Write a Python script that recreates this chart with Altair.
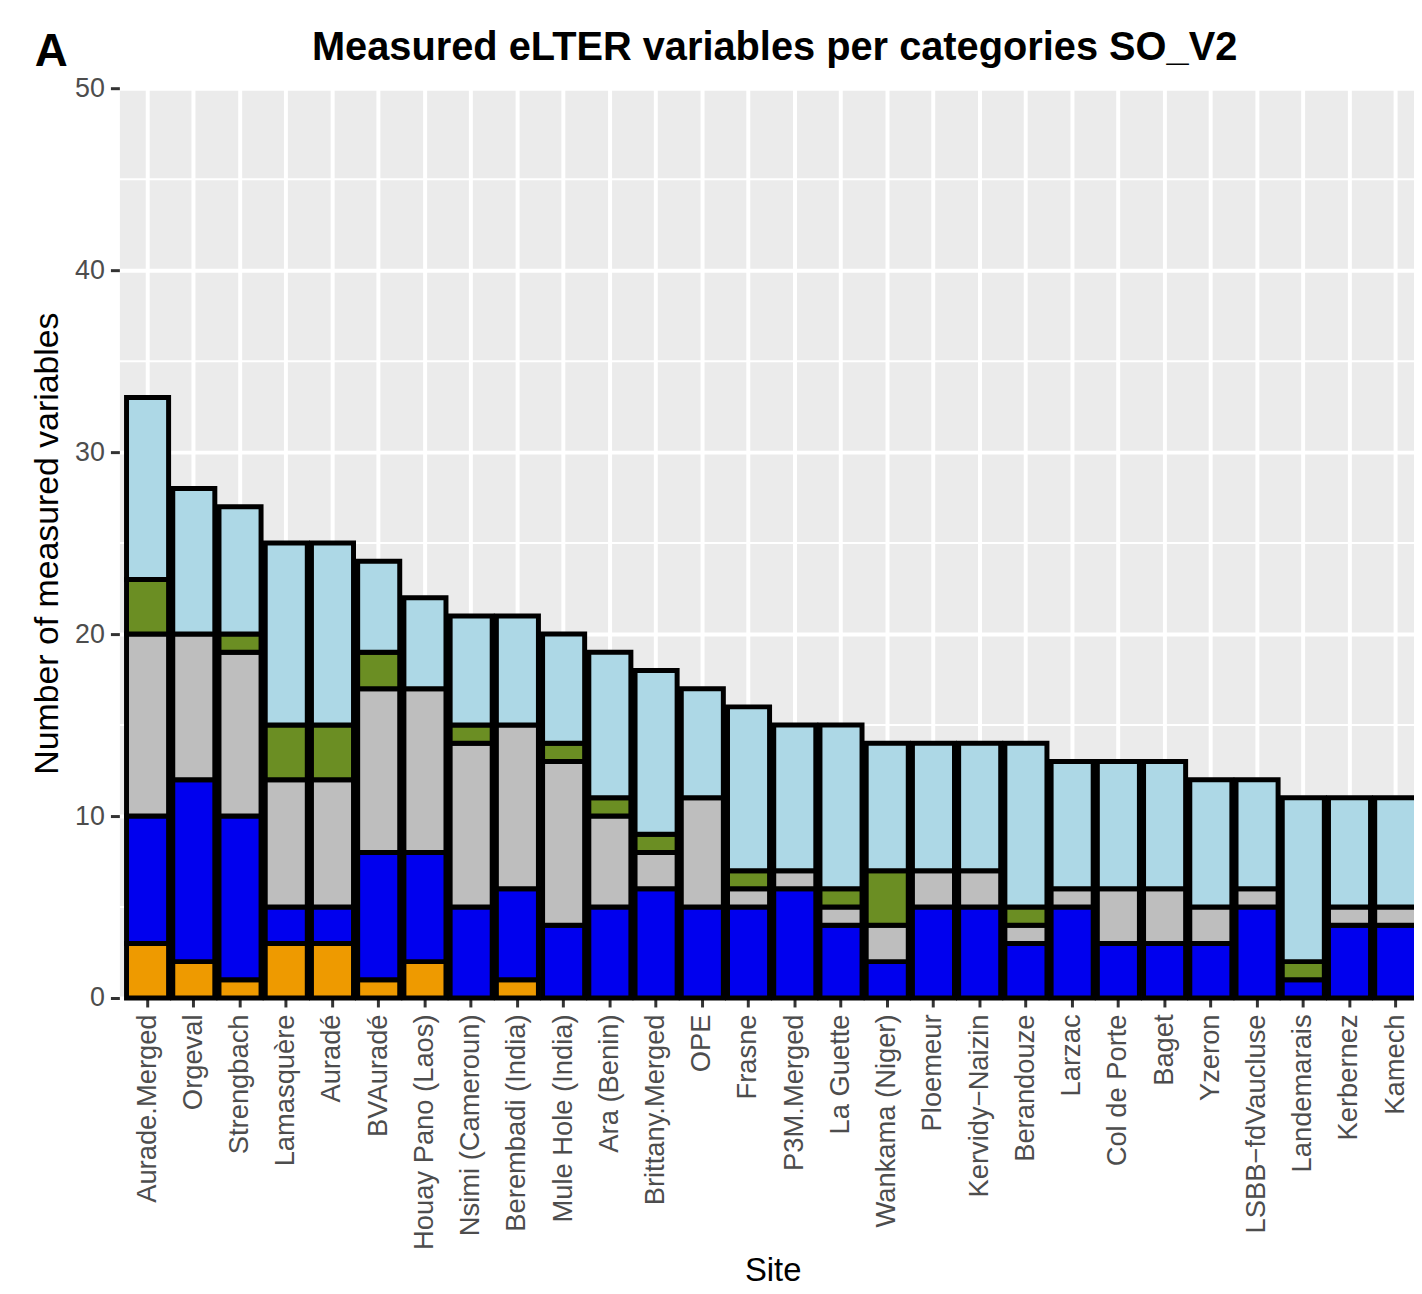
import altair as alt
import pandas as pd

# ---------------- data ----------------
sites = [
    "Aurade.Merged", "Orgeval", "Strengbach", "Lamasquère", "Auradé", "BVAuradé",
    "Houay Pano (Laos)", "Nsimi (Cameroun)", "Berembadi (India)", "Mule Hole (India)",
    "Ara (Benin)", "Brittany.Merged", "OPE", "Frasne", "P3M.Merged", "La Guette",
    "Wankama (Niger)", "Ploemeur", "Kervidy\u2212Naizin", "Berandouze", "Larzac",
    "Col de Porte", "Baget", "Yzeron", "LSBB\u2212fdVaucluse", "Landemarais",
    "Kerbernez", "Kamech",
]

# stack order, bottom -> top
categories = ["Group 1", "Group 2", "Group 3", "Group 4", "Group 5"]
colors = ["#EE9A00", "#0000EE", "#BEBEBE", "#6B8E23", "#ADD8E6"]

group1 = [3, 2, 1, 3, 3, 1, 2, 0, 1, 0, 0, 0, 0, 0, 0, 0, 0, 0, 0, 0, 0, 0, 0, 0, 0, 0, 0, 0]
group2 = [7, 10, 9, 2, 2, 7, 6, 5, 5, 4, 5, 6, 5, 5, 6, 4, 2, 5, 5, 3, 5, 3, 3, 3, 5, 1, 4, 4]
group3 = [10, 8, 9, 7, 7, 9, 9, 9, 9, 9, 5, 2, 6, 1, 1, 1, 2, 2, 2, 1, 1, 3, 3, 2, 1, 0, 1, 1]
group4 = [3, 0, 1, 3, 3, 2, 0, 1, 0, 1, 1, 1, 0, 1, 0, 1, 3, 0, 0, 1, 0, 0, 0, 0, 0, 1, 0, 0]
group5 = [10, 8, 7, 10, 10, 5, 5, 6, 6, 6, 8, 9, 6, 9, 8, 9, 7, 7, 7, 9, 7, 7, 7, 7, 6, 9, 6, 6]
series = [group1, group2, group3, group4, group5]

y_ticks = [0, 10, 20, 30, 40, 50]
y_minor = [5, 15, 25, 35, 45]

chart_title = "Measured eLTER variables per categories SO_V2"
panel_tag = "A"

rows = []
for i, s in enumerate(sites):
    for k, (name, vals) in enumerate(zip(categories, series)):
        if vals[i] > 0:
            rows.append({"Site": s, "Category": name, "rank": k, "Count": vals[i]})
df = pd.DataFrame(rows)

# ---------------- layout ----------------
W = 1302          # visible plot width
H = 915
FULL = 1312       # panel continues slightly beyond the page edge
FONT = "Liberation Sans"

y_scale = alt.Scale(domain=[0, 50], nice=False, zero=True)
x_scale = alt.Scale(domain=sites, rangeMin=0, rangeMax=FULL, paddingInner=0.09, paddingOuter=0.155)

y_axis = alt.Axis(
    title="Number of measured variables",
    values=y_ticks,
    labelFontSize=27,
    labelColor="#4D4D4D",
    labelFont=FONT,
    labelPadding=6,
    tickSize=9,
    tickWidth=3,
    tickColor="#333333",
    domain=False,
    grid=True,
    gridColor="white",
    gridWidth=4,
    titleFontSize=34,
    titleFont=FONT,
    titleFontWeight="normal",
    titleColor="black",
    titlePadding=10,
)

minor = alt.Chart(pd.DataFrame({"v": y_minor})).mark_rule(
    color="white", strokeWidth=2
).encode(
    y=alt.Y("v:Q", scale=y_scale, axis=y_axis),
    x=alt.value(0),
    x2=alt.value(W),
)

bars = alt.Chart(df).mark_bar(stroke="black", strokeWidth=5).encode(
    x=alt.X(
        "Site:N",
        sort=sites,
        scale=x_scale,
        axis=alt.Axis(
            title="Site",
            labelAngle=-90,
            labelAlign="right",
            labelBaseline="middle",
            labelFontSize=27.5,
            labelColor="#4D4D4D",
            labelFont=FONT,
            labelPadding=7,
            labelLimit=0,
            tickSize=9,
            tickWidth=3,
            tickColor="#333333",
            domain=False,
            grid=True,
            gridColor="white",
            gridWidth=4,
            bandPosition=0.5,
            titleFontSize=33,
            titleFont=FONT,
            titleFontWeight="normal",
            titleColor="black",
            titleBaseline="alphabetic",
            titleY=284,
            titleX=657,
        ),
    ),
    y=alt.Y("Count:Q", stack="zero", scale=y_scale, axis=y_axis),
    color=alt.Color("Category:N", scale=alt.Scale(domain=categories, range=colors), legend=None),
    order=alt.Order("rank:Q", sort="ascending"),
)

tag = alt.Chart(pd.DataFrame({"t": [panel_tag]})).mark_text(
    font=FONT, fontSize=46, fontWeight="bold", align="left", baseline="alphabetic", color="black"
).encode(
    text="t:N",
    x=alt.value(-85),
    y=alt.value(-22),
)

title = alt.Chart(pd.DataFrame({"t": [chart_title]})).mark_text(
    font=FONT, fontSize=40, fontWeight="bold", align="center", baseline="alphabetic", color="black"
).encode(
    text="t:N",
    x=alt.value(659),
    y=alt.value(-28),
)

chart = alt.layer(minor, bars, tag, title).properties(
    width=W,
    height=H,
    padding={"left": 112, "top": 77, "right": 0, "bottom": 292},
    autosize=alt.AutoSizeParams(type="none"),
).configure_view(
    fill="#EBEBEB", stroke="transparent"
)

chart.save("out.html", embed_options={"renderer": "svg", "actions": False})
